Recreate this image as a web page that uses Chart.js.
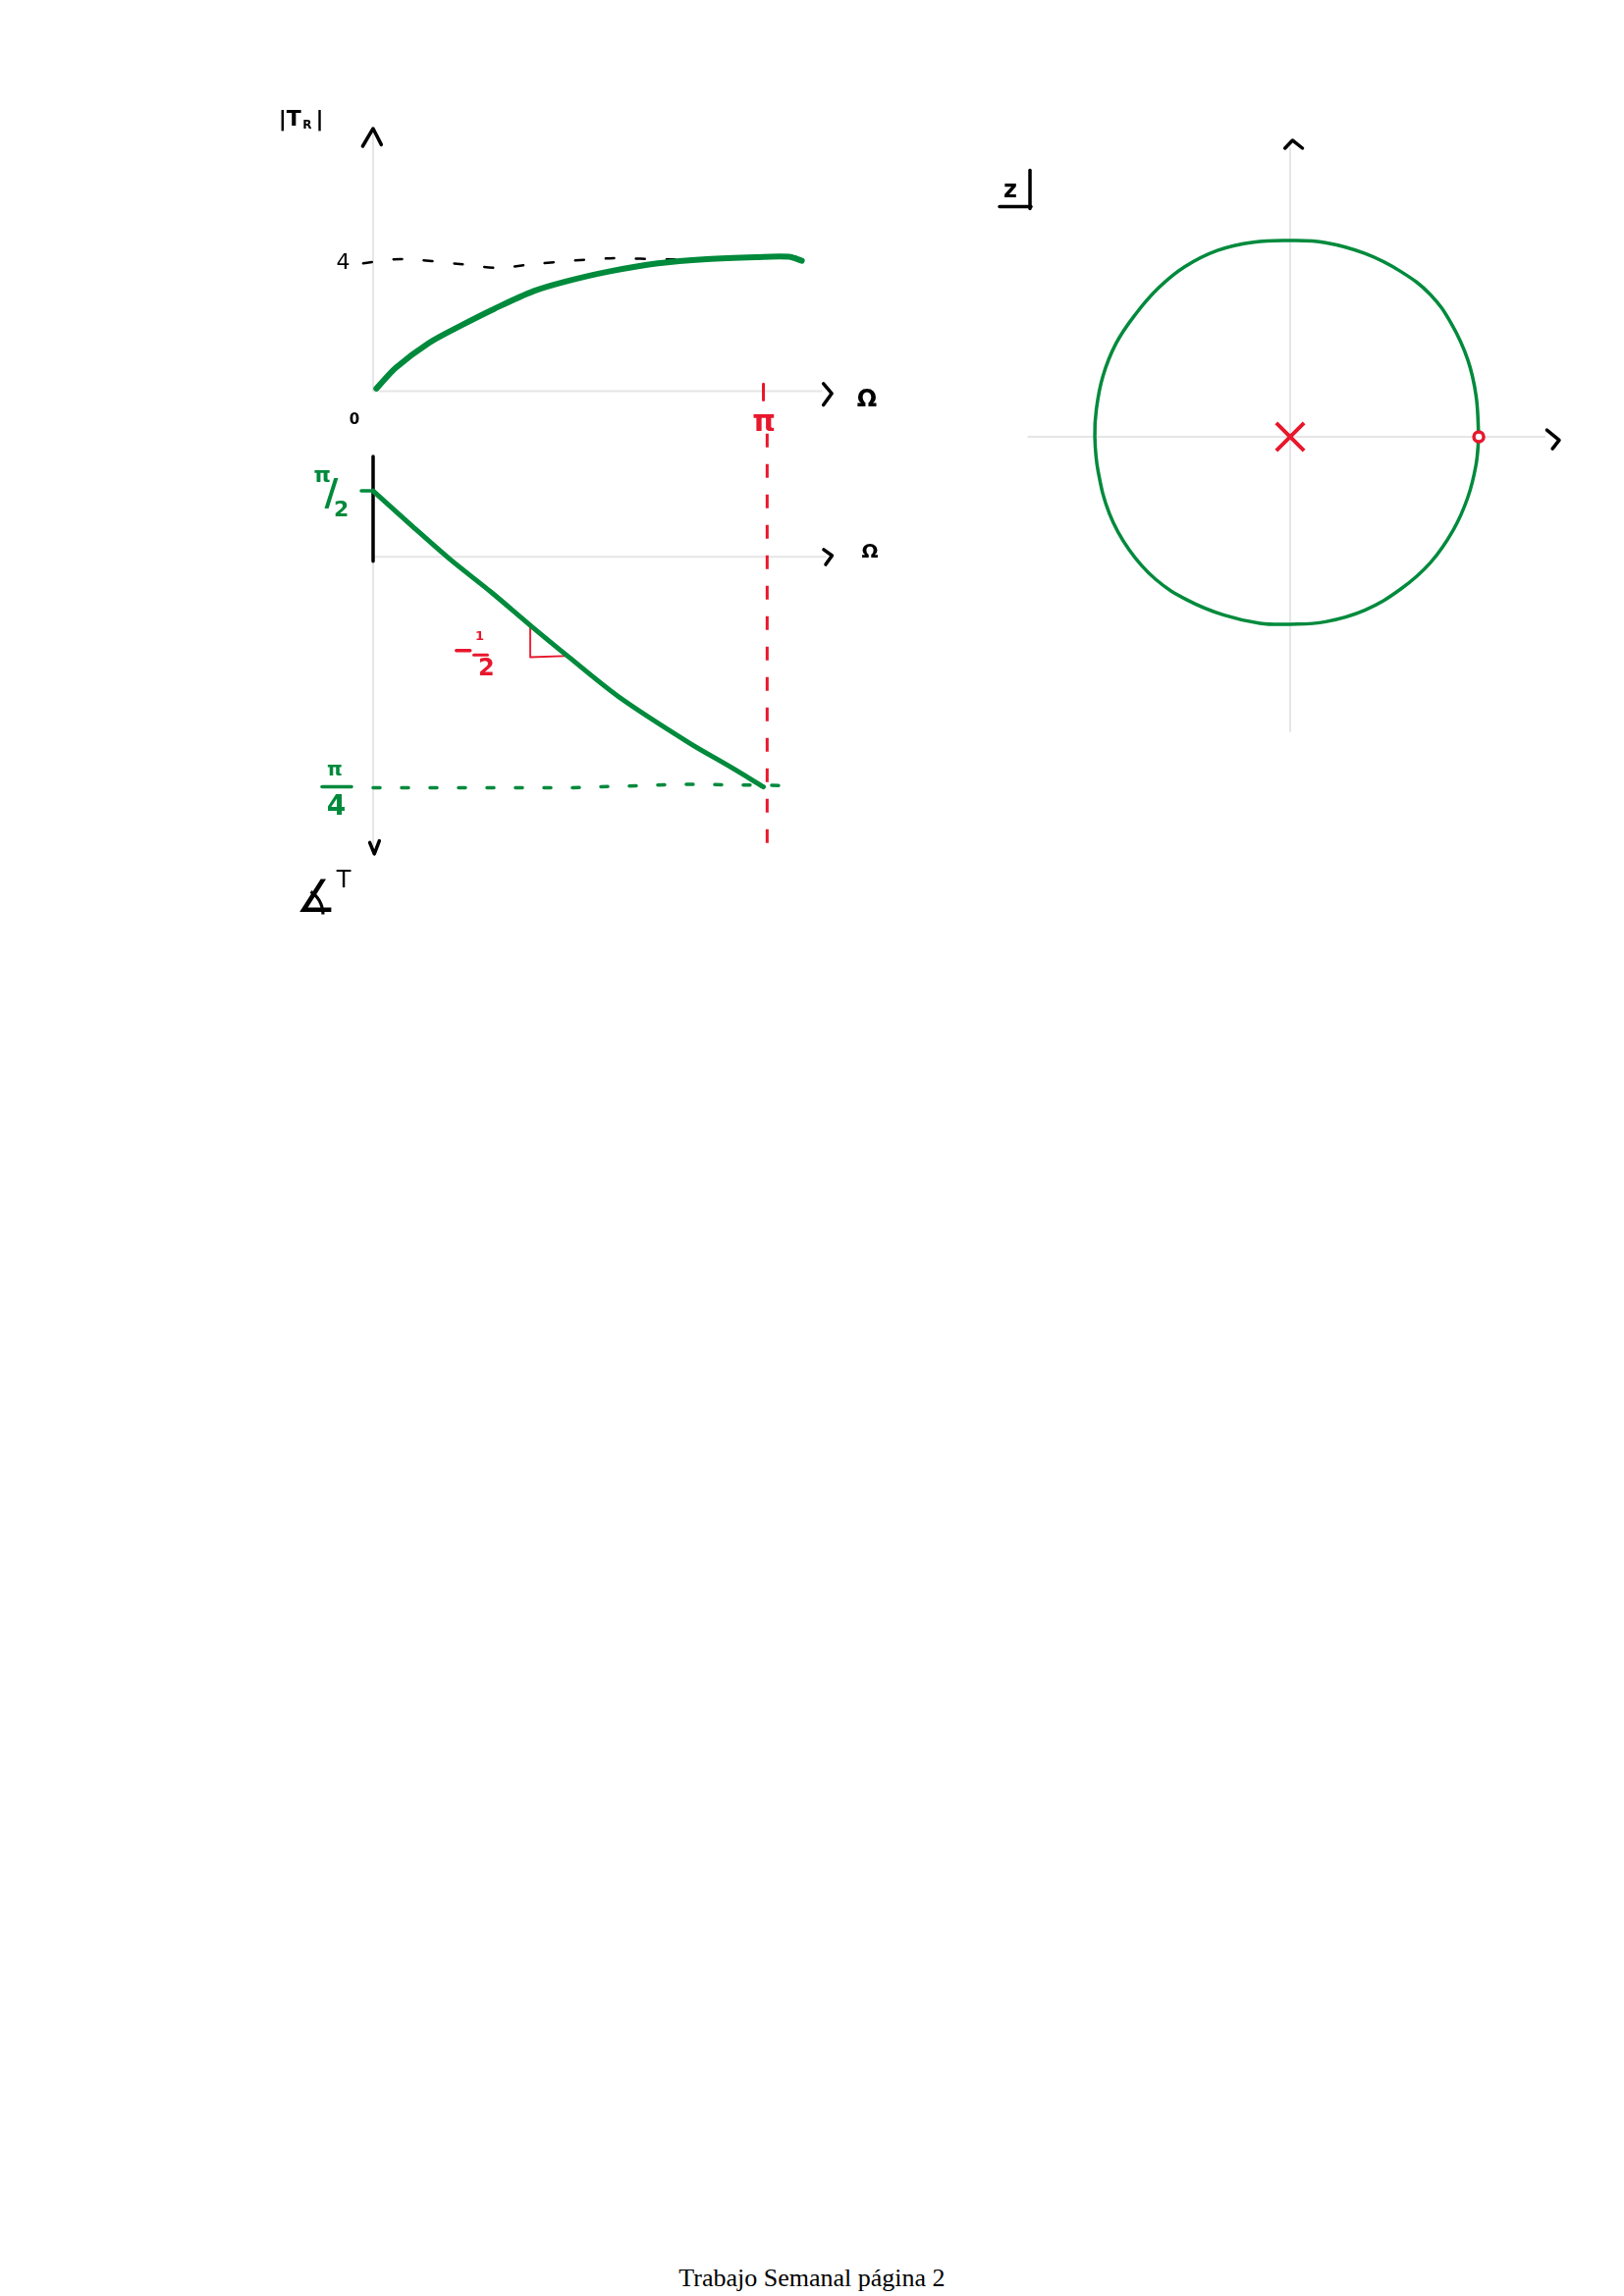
<!DOCTYPE html>
<html>
<head>
<meta charset="utf-8">
<script src="https://cdn.jsdelivr.net/npm/chart.js@4.4.1/dist/chart.umd.min.js"></script>
<style>
    html, body { margin: 0; padding: 0; background: #fff; }
    body { width: 1654px; height: 2339px; position: relative; overflow: hidden; }
    canvas { position: absolute; }
    #footer { position: absolute; left: 0; top: 2306px; width: 1654px; text-align: center;
              font-family: "Liberation Serif", "Times New Roman", serif; font-size: 26px; color: #000; }
</style>
</head>
<body>
<canvas id="mag"></canvas>
<canvas id="phase"></canvas>
<canvas id="zplane"></canvas>
<div id="footer">Trabajo Semanal página 2</div>
<script>
// |T_R| against Omega
const magOmega = [0.026, 0.184, 0.448, 0.711, 0.974, 1.290, 1.554, 1.896, 2.291, 2.686, 3.081, 3.344, 3.449];
const magValue = [0.08, 0.72, 1.47, 2.01, 2.51, 3.05, 3.35, 3.65, 3.90, 4.03, 4.09, 4.10, 3.98];
// dashed asymptote at |T_R| = 4 (wobbly, as sketched)
const magRefOmega = [-0.08, 0.22, 0.72, 1.00, 1.30, 1.90, 2.40, 3.40];
const magRefValue = [3.90, 4.03, 3.87, 3.76, 3.88, 4.05, 4.02, 4.10];

// phase of T against Omega (sketch units, pi/2 mark at top)
const phaseOmega = [0, 0.32, 0.62, 0.95, 1.26, 1.58, 1.98, 2.54, 2.88, 3.14];
const phaseValue = [1.55, 0.71, -0.06, -0.83, -1.60, -2.37, -3.30, -4.37, -4.95, -5.41];
const phaseRefOmega = [0, 1.60, 2.50, 3.31];
const phaseRefValue = [-5.43, -5.43, -5.35, -5.38];
// slope bracket (-1/2)
const slopeX = [1.264, 1.264, 1.58];
const slopeY = [-1.60, -2.36, -2.33];
// Omega = pi guide
const piX = [3.17, 3.17];
const piY = [2.9, -6.92];
const piTickX = [3.14, 3.14];
const piTickY = [0.22, -0.27];
const phaseBarX = [0, 0];
const phaseBarY = [2.36, -0.10];

// z plane: unit circle, pole and zero
const circleRe = [0.980, 0.966, 0.923, 0.838, 0.728, 0.575, 0.388, 0.184, 0, -0.190, -0.378, -0.548, -0.684,
                  -0.803, -0.905, -0.973, -1.007, -1.015, -0.998, -0.939, -0.837, -0.700, -0.531, -0.343,
                  -0.157, 0, 0.184, 0.388, 0.575, 0.728, 0.847, 0.923, 0.966, 0.980];
const circleIm = [0, 0.213, 0.400, 0.587, 0.740, 0.859, 0.953, 1.009, 1.020, 1.012, 0.969, 0.884, 0.774,
                  0.638, 0.485, 0.315, 0.144, 0, -0.179, -0.400, -0.587, -0.740, -0.850, -0.927,
                  -0.969, -0.974, -0.961, -0.901, -0.791, -0.655, -0.485, -0.315, -0.144, 0];
const poleRe = [0], poleIm = [0];
const zeroRe = [0.98], zeroIm = [0];

const GREEN = "#008a3c", RED = "#e8172c", GRAY = "#e6e6e6", INK = "#000";
const HAND = '"DejaVu Sans", sans-serif';

function frame(box, origin, ux, uy) {
    return {
        x: { min: (box.left - origin[0]) / ux, max: (box.left + box.width - origin[0]) / ux },
        y: { min: (origin[1] - box.top - box.height) / uy, max: (origin[1] - box.top) / uy }
    };
}

function path(xs, ys, style) {
    return Object.assign({
        data: xs.map((x, i) => ({ x: x, y: ys[i] })),
        showLine: true, pointRadius: 0, fill: false, tension: 0,
        borderWidth: 2, borderColor: INK, borderCapStyle: "round", borderJoinStyle: "round"
    }, style);
}

function labels(items) {
    return {
        id: "labels",
        afterDatasetsDraw(chart) {
            const ctx = chart.ctx, sx = chart.scales.x, sy = chart.scales.y;
            ctx.save();
            items.forEach(it => {
                if (it.line) {
                    ctx.beginPath();
                    ctx.strokeStyle = it.color || INK;
                    ctx.lineWidth = it.width || 3;
                    ctx.lineCap = "round";
                    ctx.moveTo(sx.getPixelForValue(it.line[0][0]), sy.getPixelForValue(it.line[0][1]));
                    ctx.lineTo(sx.getPixelForValue(it.line[1][0]), sy.getPixelForValue(it.line[1][1]));
                    ctx.stroke();
                    return;
                }
                ctx.fillStyle = it.color || INK;
                ctx.font = (it.weight || "bold") + " " + it.size + "px " + HAND;
                ctx.textAlign = "center";
                ctx.textBaseline = "middle";
                ctx.fillText(it.text, sx.getPixelForValue(it.x), sy.getPixelForValue(it.y));
            });
            ctx.restore();
        }
    };
}

function makeChart(id, box, range, datasets, items) {
    const cv = document.getElementById(id);
    cv.width = box.width; cv.height = box.height;
    cv.style.left = box.left + "px"; cv.style.top = box.top + "px";
    cv.style.width = box.width + "px"; cv.style.height = box.height + "px";
    const axis = r => ({ type: "linear", min: r.min, max: r.max, bounds: "data", grace: 0, display: false });
    return new Chart(cv.getContext("2d"), {
        type: "scatter",
        data: { datasets: datasets },
        options: {
            responsive: false, animation: false, events: [],
            layout: { padding: 0, autoPadding: false },
            plugins: { legend: { display: false }, tooltip: { enabled: false } },
            scales: { x: axis(range.x), y: axis(range.y) }
        },
        plugins: [labels(items)]
    });
}

// magnitude plot
const magBox = { left: 260, top: 90, width: 680, height: 360 };
makeChart("mag", magBox, frame(magBox, [380, 398.5], 126.6, 33.4), [
    path(magOmega, magValue, { borderColor: GREEN, borderWidth: 6, tension: 0.3 }),
    path(magRefOmega, magRefValue, { borderWidth: 2.5, borderDash: [9, 22], tension: 0.3 }),
    path(piTickX, piTickY, { borderColor: RED, borderWidth: 3 }),
    path([3.623, 3.69, 3.623], [0.226, -0.07, -0.42], { borderWidth: 3.5 }),
    path([-0.084, 0, 0.066], [7.47, 8.01, 7.52], { borderWidth: 3.5 }),
    path([0, 3.607], [0, 0], { borderColor: GRAY, borderWidth: 2 }),
    path([0, 0], [0, 8.01], { borderColor: GRAY, borderWidth: 2 })
], [
    { text: "|T", x: -0.67, y: 8.28, size: 22 },
    { text: "R", x: -0.53, y: 8.10, size: 12 },
    { text: "|", x: -0.43, y: 8.28, size: 22 },
    { text: "4", x: -0.24, y: 3.89, size: 22, weight: "normal" },
    { text: "0", x: -0.15, y: -0.88, size: 15 },
    { text: "π", x: 3.144, y: -0.97, size: 30, color: RED },
    { text: "Ω", x: 3.973, y: -0.27, size: 24 }
]);

// phase plot
const phaseBox = { left: 260, top: 440, width: 680, height: 520 };
makeChart("phase", phaseBox, frame(phaseBox, [380, 567.3], 126.6, 43.3), [
    path(phaseOmega, phaseValue, { borderColor: GREEN, borderWidth: 5, tension: 0.3 }),
    path(phaseRefOmega, phaseRefValue, { borderColor: GREEN, borderWidth: 3.5, borderDash: [7, 22] }),
    path(slopeX, slopeY, { borderColor: RED, borderWidth: 1.8, borderCapStyle: "butt" }),
    path(piX, piY, { borderColor: RED, borderWidth: 3, borderDash: [14, 17], borderCapStyle: "butt" }),
    path(phaseBarX, phaseBarY, { borderWidth: 3.5 }),
    path([3.625, 3.692, 3.641], [0.17, 0.03, -0.18], { borderWidth: 3.5 }),
    path([-0.027, 0.01, 0.05], [-6.72, -6.99, -6.68], { borderWidth: 3.5 }),
    path([0, 3.641], [0, 0], { borderColor: GRAY, borderWidth: 2 }),
    path([0, 0], [0, -6.98], { borderColor: GRAY, borderWidth: 2 })
], [
    { text: "π", x: -0.41, y: 1.90, size: 22, color: GREEN },
    { text: "/", x: -0.336, y: 1.46, size: 38, color: GREEN },
    { text: "2", x: -0.255, y: 1.08, size: 22, color: GREEN },
    { line: [[-0.095, 1.554], [-0.02, 1.554]], color: GREEN, width: 3.5 },
    { text: "π", x: -0.308, y: -5.03, size: 20, color: GREEN },
    { line: [[-0.411, -5.41], [-0.174, -5.41]], color: GREEN, width: 3.5 },
    { text: "4", x: -0.296, y: -5.89, size: 28, color: GREEN },
    { text: "Ω", x: 3.997, y: 0.10, size: 20 },
    { text: "∡", x: -0.46, y: -8.08, size: 46, weight: "normal" },
    { text: "T", x: -0.237, y: -7.63, size: 24, weight: "normal" },
    { line: [[0.67, -2.203], [0.78, -2.203]], color: RED, width: 3.5 },
    { text: "1", x: 0.857, y: -1.887, size: 13, color: RED },
    { line: [[0.81, -2.31], [0.92, -2.31]], color: RED, width: 3 },
    { text: "2", x: 0.912, y: -2.637, size: 24, color: RED }
]);

// z plane
const zBox = { left: 1000, top: 120, width: 640, height: 660 };
makeChart("zplane", zBox, frame(zBox, [1314, 445], 196, 196), [
    { data: poleRe.map((x, i) => ({ x: x, y: poleIm[i] })), pointStyle: "crossRot", pointRadius: 20,
      borderColor: RED, borderWidth: 4, backgroundColor: RED },
    { data: zeroRe.map((x, i) => ({ x: x, y: zeroIm[i] })), pointStyle: "circle", pointRadius: 5,
      borderColor: RED, borderWidth: 3.5, backgroundColor: "#fff" },
    path(circleRe, circleIm, { borderColor: GREEN, borderWidth: 3.5, tension: 0.4 }),
    path([1.334, 1.398, 1.363], [0.035, -0.017, -0.062], { borderWidth: 3.5 }),
    path([-0.027, 0.012, 0.064], [1.50, 1.541, 1.50], { borderWidth: 3.5 }),
    path([-1.361, 1.323], [0, 0], { borderColor: GRAY, borderWidth: 2 }),
    path([0, 0], [1.50, -1.531], { borderColor: GRAY, borderWidth: 2 })
], [
    { text: "z", x: -1.454, y: 1.278, size: 24 },
    { line: [[-1.352, 1.385], [-1.352, 1.186]], width: 3.5 },
    { line: [[-1.510, 1.197], [-1.347, 1.197]], width: 3.5 }
]);
</script>
</body>
</html>
